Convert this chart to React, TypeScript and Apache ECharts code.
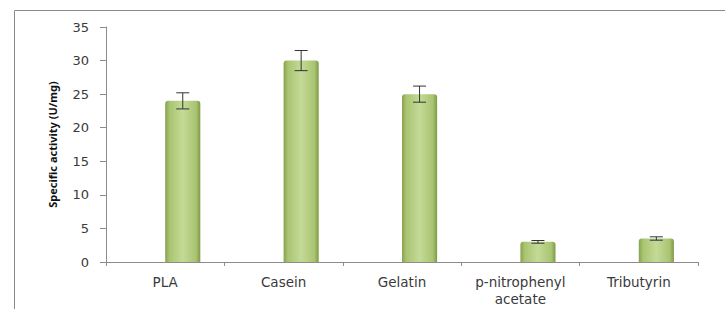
import React, { useEffect, useRef } from "react";
import * as echarts from "echarts";

const categories = ["PLA", "Casein", "Gelatin", "p-nitrophenyl\nacetate", "Tributyrin"];
const activity = [24, 30, 25, 3, 3.5];
const errors = [1.2, 1.5, 1.2, 0.2, 0.25];
const yTicks = { min: 0, max: 35, interval: 5 };

const GAP = 0.407;

export default function App() {
  const ref = useRef<HTMLDivElement>(null);
  useEffect(() => {
    const chart = echarts.init(ref.current!, null, { renderer: "svg" });
    const barColor = new echarts.graphic.LinearGradient(0, 0, 1, 0, [
      { offset: 0, color: "#86a24a" },
      { offset: 0.12, color: "#a9c471" },
      { offset: 0.5, color: "#c4da97" },
      { offset: 0.88, color: "#a9c471" },
      { offset: 1, color: "#7f9a44" },
    ]);
    chart.setOption({
      animation: false,
      grid: { left: 106, top: 27, right: 27, bottom: 47 },
      xAxis: {
        type: "category",
        data: categories,
        axisLine: { lineStyle: { color: "#8c8c8c" } },
        axisTick: { show: true, alignWithLabel: false, length: 4, lineStyle: { color: "#8c8c8c" } },
        axisLabel: { color: "#3a3a3a", fontFamily: "DejaVu Sans", fontSize: 13.5, lineHeight: 17, margin: 11 },
      },
      yAxis: {
        type: "value",
        min: yTicks.min,
        max: yTicks.max,
        interval: yTicks.interval,
        name: "Specific activity (U/mg)",
        nameLocation: "middle",
        nameGap: 48,
        nameRotate: 90,
        nameTextStyle: { color: "#111", fontFamily: "Noto Sans", fontWeight: "bold", fontSize: 11 },
        axisLine: { show: true, lineStyle: { color: "#8c8c8c" } },
        axisTick: { show: true, length: 6, lineStyle: { color: "#8c8c8c" } },
        splitLine: { show: false },
        axisLabel: { color: "#3a3a3a", fontFamily: "DejaVu Sans", fontSize: 13, margin: 17 },
      },
      series: [
        { type: "bar", data: categories.map(() => null), barGap: "0%", barCategoryGap: GAP * 100 + "%" },
        {
          type: "bar",
          data: activity,
          barGap: "0%",
          barCategoryGap: GAP * 100 + "%",
          itemStyle: { color: barColor, borderRadius: [3, 3, 0, 0] },
        },
        {
          type: "custom",
          data: activity.map((v, i) => [i, v - errors[i], v + errors[i]]),
          renderItem: (params: any, api: any) => {
            const i = api.value(0);
            const lo = api.coord([i, api.value(1)]);
            const hi = api.coord([i, api.value(2)]);
            const band = api.size([1, 0])[0];
            const bw = (band * (1 - GAP)) / 2;
            const x = lo[0] + bw / 2;
            const cap = 6.5;
            const style = { stroke: "#333", lineWidth: 1 };
            return {
              type: "group",
              children: [
                { type: "line", shape: { x1: x, y1: lo[1], x2: x, y2: hi[1] }, style },
                { type: "line", shape: { x1: x - cap, y1: lo[1], x2: x + cap, y2: lo[1] }, style },
                { type: "line", shape: { x1: x - cap, y1: hi[1], x2: x + cap, y2: hi[1] }, style },
              ],
            };
          },
          z: 5,
        },
      ],
      graphic: [
        { type: "line", shape: { x1: 14.5, y1: 10.5, x2: 725, y2: 10.5 }, style: { stroke: "#8a8a8a", lineWidth: 1 } },
        { type: "line", shape: { x1: 14.5, y1: 10.5, x2: 14.5, y2: 309 }, style: { stroke: "#8a8a8a", lineWidth: 1 } },
      ],
    });
    return () => chart.dispose();
  }, []);
  return (
    <div
      ref={ref}
      style={{ position: "fixed", left: 0, top: 0, width: 725, height: 309, background: "#fff" }}
    />
  );
}
